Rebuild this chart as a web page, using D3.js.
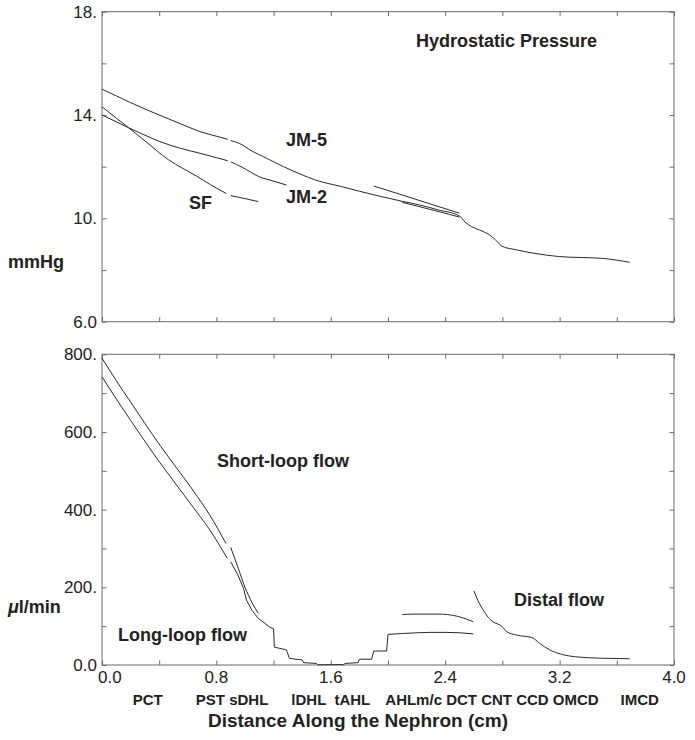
<!DOCTYPE html>
<html>
<head>
<meta charset="utf-8">
<script src="https://cdn.jsdelivr.net/npm/d3@7"></script>
<style>
  html, body { margin: 0; padding: 0; background: #fff; }
  svg { display: block; font-family: "Liberation Sans", Arial, Helvetica, sans-serif; }
</style>
</head>
<body>
<svg id="chart" width="695" height="740"></svg>
<script>
// ---------------- DATA ----------------
// Top panel: hydrostatic pressure (mmHg) vs distance (cm)
const jm5A_d = [0, 0.1, 0.2, 0.37, 0.55, 0.685, 0.8, 0.88];
const jm5A_p = [15.0, 14.74, 14.48, 14.07, 13.66, 13.36, 13.18, 13.06];
const jm5B_d = [0.90, 0.98, 1.035, 1.15, 1.27, 1.385, 1.5, 1.66, 1.8, 1.94, 2.1, 2.22, 2.35, 2.5, 2.54, 2.585, 2.64, 2.71, 2.75, 2.795, 2.9, 3.02, 3.2, 3.5, 3.69];
const jm5B_p = [13.01, 12.85, 12.65, 12.33, 12.0, 11.72, 11.47, 11.25, 11.05, 10.86, 10.66, 10.52, 10.33, 10.09, 9.85, 9.68, 9.55, 9.36, 9.18, 8.93, 8.78, 8.65, 8.52, 8.45, 8.30];
const jm2A_d = [0, 0.1, 0.17, 0.3, 0.405, 0.55, 0.685, 0.8, 0.88];
const jm2A_p = [14.0, 13.74, 13.55, 13.22, 12.97, 12.71, 12.52, 12.35, 12.23];
const jm2B_d = [0.90, 0.98, 1.1, 1.2, 1.29];
const jm2B_p = [12.19, 11.98, 11.61, 11.44, 11.29];
const jm2C_d = [2.1, 2.3, 2.5];
const jm2C_p = [10.62, 10.34, 10.05];
const sfA_d = [0, 0.1, 0.17, 0.3, 0.465, 0.56, 0.66, 0.76, 0.87];
const sfA_p = [14.32, 13.88, 13.58, 13.0, 12.27, 11.95, 11.64, 11.3, 10.96];
const sfB_d = [0.90, 0.98, 1.093];
const sfB_p = [10.88, 10.79, 10.65];
const sfC_d = [1.90, 2.08, 2.3, 2.5];
const sfC_p = [11.25, 10.94, 10.55, 10.2];

// Bottom panel: flow (µl/min) vs distance (cm)
const shortA_d = [0, 0.1, 0.2, 0.3, 0.405, 0.5, 0.64, 0.75, 0.867];
const shortA_v = [790, 732, 677, 622, 566, 518, 448, 388, 313];
const shortB_d = [0.9, 0.95, 1.0, 1.05, 1.093];
const shortB_v = [303, 252, 200, 160, 133];
const shortC_d = [2.1, 2.2, 2.38, 2.45, 2.52, 2.597];
const shortC_v = [130, 131, 131, 128, 122, 111];
const longA_d = [0, 0.1, 0.2, 0.3, 0.405, 0.5, 0.64, 0.75, 0.875];
const longA_v = [742, 685, 630, 576, 521, 474, 405, 350, 275];
const longB_d = [0.9, 0.95, 0.99, 1.01, 1.05, 1.093, 1.175, 1.2, 1.205, 1.29, 1.31, 1.40, 1.41, 1.50, 1.51, 1.69, 1.70, 1.79, 1.80, 1.886, 1.90, 1.99, 2.0, 2.1, 2.2, 2.3, 2.4, 2.5, 2.597];
const longB_v = [266, 232, 197, 167, 140, 120, 97, 93, 46, 39, 17, 13, 6, 4, 0.5, 1, 4, 6, 15, 15, 36, 36, 79, 81, 83, 84, 84, 83, 80];
const distal_d = [2.601, 2.63, 2.667, 2.7, 2.736, 2.795, 2.83, 2.9, 2.95, 3.005, 3.06, 3.13, 3.23, 3.39, 3.55, 3.69];
const distal_v = [191, 165, 141, 123, 111, 100, 86, 77, 74, 71, 56, 39, 26, 19, 17, 16];

// Tick labels
const xTickLabels = ["0.0", "0.8", "1.6", "2.4", "3.2", "4.0"];
const pTickLabels = ["18.", "14.", "10.", "6.0"];
const fTickLabels = ["800.", "600.", "400.", "200.", "0.0"];
const segmentLabels = ["PCT", "PST sDHL", "lDHL  tAHL", "AHLm/c DCT CNT CCD OMCD", "IMCD"];
const segmentPos = [0.32, 0.91, 1.6, 2.727, 3.76];

// ---------------- DRAWING ----------------
const svg = d3.select("#chart");
const L = 102, R = 674;
const topP = {y0: 11.7, y1: 321.7};
const botP = {y0: 354.3, y1: 665};
const frameColor = "#6a6a6a";
const lineColor = "#2a2a2a";
const textColor = "#222";

const x = d3.scaleLinear().domain([0, 4]).range([L, R]);
const yP = d3.scaleLinear().domain([6, 18]).range([topP.y1, topP.y0]);
const yF = d3.scaleLinear().domain([0, 800]).range([botP.y1, botP.y0]);

function frame(y, y0, y1, minorStep, labelVals, labels) {
  const g = svg.append("g");
  g.append("rect").attr("x", L).attr("y", y0).attr("width", R - L).attr("height", y1 - y0)
    .attr("fill", "none").attr("stroke", frameColor).attr("stroke-width", 1);
  const tl = 4.5;
  const xb = d3.axisBottom(x).tickValues(d3.range(0, 4.0001, 0.4)).tickSize(-tl).tickFormat("");
  g.append("g").attr("transform", `translate(0,${y1})`).call(xb);
  const xt = d3.axisTop(x).tickValues(d3.range(0, 4.0001, 0.4)).tickSize(-tl).tickFormat("");
  g.append("g").attr("transform", `translate(0,${y0})`).call(xt);
  const yd = y.domain();
  const yl = d3.axisLeft(y).tickValues(d3.range(yd[0], yd[1] + 1e-6, minorStep)).tickSize(-tl).tickFormat("");
  g.append("g").attr("transform", `translate(${L},0)`).call(yl);
  const yr = d3.axisRight(y).tickValues(d3.range(yd[0], yd[1] + 1e-6, minorStep)).tickSize(-tl).tickFormat("");
  g.append("g").attr("transform", `translate(${R},0)`).call(yr);
  g.selectAll(".domain").remove();
  g.selectAll(".tick line").attr("stroke", frameColor);
  labelVals.forEach((v, i) => {
    g.append("text").attr("x", L - 5).attr("y", y(v)).attr("dy", "0.36em")
      .attr("text-anchor", "end").attr("font-size", 17).attr("fill", textColor).text(labels[i]);
  });
}

frame(yP, topP.y0, topP.y1, 2, [18, 14, 10, 6], pTickLabels);
frame(yF, botP.y0, botP.y1, 100, [800, 600, 400, 200, 0], fTickLabels);

// x tick labels (first one starts at the axis, as in the reference)
xTickLabels.forEach((t, i) => {
  const first = i === 0;
  svg.append("text").attr("x", first ? L - 4 : x(i * 0.8)).attr("y", botP.y1 + 18)
    .attr("text-anchor", first ? "start" : "middle")
    .attr("font-size", 17).attr("fill", textColor).text(t);
});
// nephron segment labels
segmentLabels.forEach((t, i) => {
  svg.append("text").attr("x", x(segmentPos[i])).attr("y", 705).attr("text-anchor", "middle")
    .attr("font-size", 15).attr("font-weight", "bold").attr("fill", textColor)
    .attr("xml:space", "preserve").style("white-space", "pre").text(t);
});

const line = (ys, curve) => d3.line().x(d => x(d[0])).y(d => ys(d[1])).curve(curve || d3.curveMonotoneX);
function drawSeg(ds, vs, ys, curve) {
  const pts = ds.map((d, i) => [d, vs[i]]);
  svg.append("path").datum(pts).attr("d", line(ys, curve)).attr("fill", "none")
    .attr("stroke", lineColor).attr("stroke-width", 1);
}
drawSeg(jm5A_d, jm5A_p, yP);
drawSeg(jm5B_d, jm5B_p, yP);
drawSeg(jm2A_d, jm2A_p, yP);
drawSeg(jm2B_d, jm2B_p, yP);
drawSeg(jm2C_d, jm2C_p, yP);
drawSeg(sfA_d, sfA_p, yP);
drawSeg(sfB_d, sfB_p, yP);
drawSeg(sfC_d, sfC_p, yP);

drawSeg(shortA_d, shortA_v, yF);
drawSeg(shortB_d, shortB_v, yF);
drawSeg(shortC_d, shortC_v, yF);
drawSeg(longA_d, longA_v, yF);
drawSeg(longB_d, longB_v, yF, d3.curveLinear);
drawSeg(distal_d, distal_v, yF);

// Annotations
function label(t, xx, yy, anchor, size) {
  return svg.append("text").attr("x", xx).attr("y", yy).attr("dy", "0.35em")
    .attr("text-anchor", anchor || "start").attr("font-size", size || 18).attr("font-weight", "bold")
    .attr("fill", textColor).text(t);
}
label("Hydrostatic Pressure", 416, 41);
label("JM-5", 286, 140);
label("JM-2", 286, 197);
label("SF", 189, 203);
label("mmHg", 8, 262);
label("Short-loop flow", 217, 461);
label("Long-loop flow", 118, 635);
label("Distal flow", 514, 600);
const mu = label("", 8, 607);
mu.append("tspan").attr("font-style", "italic").text("\u03bc");
mu.append("tspan").text("l/min");
label("Distance Along the Nephron (cm)", 358, 720, "middle", 19);
</script>
</body>
</html>
